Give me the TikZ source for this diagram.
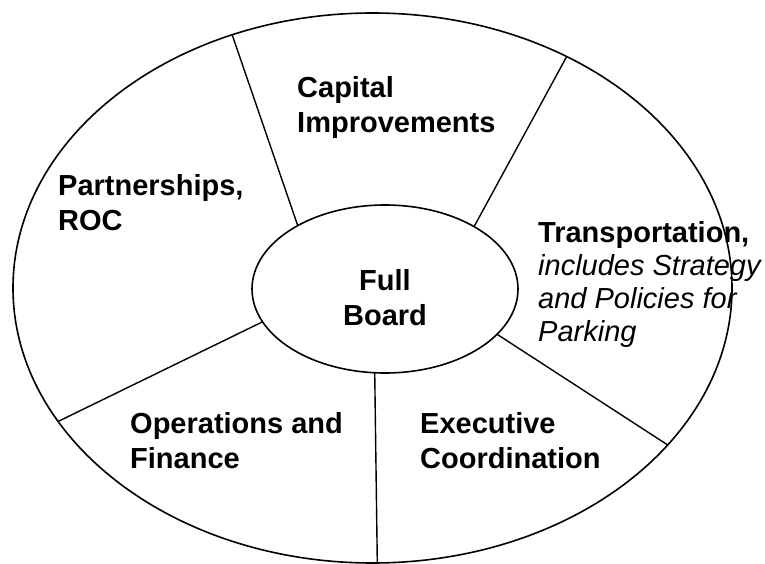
\documentclass[tikz,border=0pt]{standalone}
\usepackage{fontspec}
\setmainfont{Liberation Sans}
\usetikzlibrary{shapes.geometric}

\begin{document}
\begin{tikzpicture}[x=1pt, y=-1pt,
		    ring/.style={draw, ellipse, line width=1.6pt, inner sep=0pt, outer sep=0pt},
		    spoke/.style={line width=1.4pt},
		    sectortext/.style={anchor=base west, align=left, inner sep=0pt,
		        font=\fontsize{29}{35}\selectfont\bfseries}
		]
		\useasboundingbox (0,0) rectangle (765,564);
		\node[ring, minimum width=719pt, minimum height=550pt] (Ring) at (372.5, 288) {};
		\node[ring, minimum width=266pt, minimum height=168pt] (Board) at (385, 289) {};
		\node[sectortext, anchor=base, align=center] (Full Board) at (385, 325) {Full\\Board};
		\node[sectortext] (Capital) at (297, 133) {Capital\\Improvements};
		\node[sectortext] (Partnerships) at (58, 230) {Partnerships,\\ROC};
		\node[sectortext, font=\fontsize{29}{33}\selectfont\bfseries] (Transportation) at (538, 341) {Transportation,\\
		    \normalfont\itshape includes Strategy\\
		    \normalfont\itshape and Policies for\\
		    \normalfont\itshape Parking};
		\node[sectortext] (Operations) at (130, 468) {Operations and\\Finance};
		\node[sectortext] (Executive) at (420, 468) {Executive\\Coordination};
		\draw[spoke] (Board.144.8) -- (Ring.119.5);
		\draw[spoke] (Board.35.7) -- (Ring.50.2);
		\draw[spoke] (Board.-22) -- (Ring.-28.2);
		\draw[spoke] (Board.-97.5) -- (Ring.-89.7);
		\draw[spoke] (Board.195.4) -- (Ring.203.1);
	\end{tikzpicture}
\end{document}
